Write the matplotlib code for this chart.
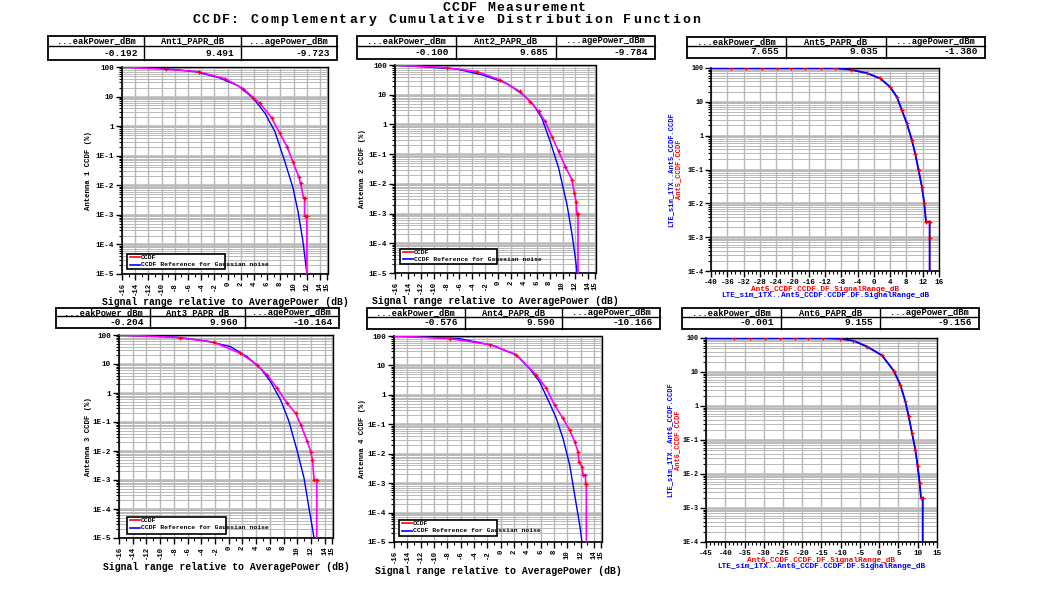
import matplotlib
matplotlib.use('Agg')
import matplotlib.pyplot as plt
from matplotlib.lines import Line2D
from matplotlib.patches import Rectangle
from matplotlib.ticker import FixedLocator, MultipleLocator, LogLocator, NullFormatter

plt.rcParams['font.family'] = ['Liberation Mono', 'DejaVu Sans Mono']
plt.rcParams['font.weight'] = 'bold'

W, H = 1063, 606

# ---------------- data ----------------
title_1 = "CCDF Measurement"
title_2 = "CCDF: Complementary Cumulative Distribution Function"

left_xticks = [-16, -14, -12, -10, -8, -6, -4, -2, 0, 2, 4, 6, 8, 10, 12, 14, 15]
left_xticklabels = ["-16", "-14", "-12", "-10", "-8", "-6", "-4", "-2", "0", "2", "4", "6", "8",
                    "10", "12", "14", "15"]
left_yticks = [100, 10, 1, 1e-1, 1e-2, 1e-3, 1e-4, 1e-5]
left_yticklabels = ["100", "10", "1", "1E-1", "1E-2", "1E-3", "1E-4", "1E-5"]
right_yticks = [100, 10, 1, 1e-1, 1e-2, 1e-3, 1e-4]
right_yticklabels = ["100", "10", "1", "1E-1", "1E-2", "1E-3", "1E-4"]
tr_xticks = [-40, -36, -32, -28, -24, -20, -16, -12, -8, -4, 0, 4, 8, 12, 16]
br_xticks = [-45, -40, -35, -30, -25, -20, -15, -10, -5, 0, 5, 10, 15]

legend_labels = ["CCDF", "CCDF Reference for Gaussian noise"]
left_xlabel = "Signal range relative to AveragePower (dB)"
left_ylabels = ["Antenna 1 CCDF (%)", "Antenna 2 CCDF (%)", "Antenna 3 CCDF (%)", "Antenna 4 CCDF (%)"]

table_headers = [
    ["...eakPower_dBm", "Ant1_PAPR_dB", "...agePower_dBm"],
    ["...eakPower_dBm", "Ant2_PAPR_dB", "...agePower_dBm"],
    ["...eakPower_dBm", "Ant5_PAPR_dB", "...agePower_dBm"],
    ["...eakPower_dBm", "Ant3_PAPR_dB", "...agePower_dBm"],
    ["...eakPower_dBm", "Ant4_PAPR_dB", "...agePower_dBm"],
    ["...eakPower_dBm", "Ant6_PAPR_dB", "...agePower_dBm"],
]
table_values = [
    ["-0.192", "9.491", "-9.723"],
    ["-0.100", "9.685", "-9.784"],
    ["7.655", "9.035", "-1.380"],
    ["-0.204", "9.960", "-10.164"],
    ["-0.576", "9.590", "-10.166"],
    ["-0.001", "9.155", "-9.156"],
]

# Antenna 1
ant1_ref_x = [-16, -9.85, -4.85, -1.35, 1.65, 3.9, 5.65, 7.15, 8.65, 9.9, 10.65, 11.4, 11.65, 12.0]
ant1_ref_y = [100, 90.2, 69.2, 43.7, 22.9, 8.71, 2.75, 0.661, 0.0646, 0.00813, 0.00132, 1.29e-4, 4.57e-5, 1e-5]
ant1_meas_x = [-16, -9.35, -4.35, -0.35, 2.4, 3.9, 4.9, 6.65, 7.9, 9.05, 9.9, 10.8, 11.05, 11.5, 11.65,
               11.65, 12.0, 12.0]
ant1_meas_y = [100, 83.2, 69.2, 39.8, 18.2, 9.23, 5.89, 1.95, 0.575, 0.191, 0.0603, 0.0186, 0.0117, 0.00372,
               0.00372, 0.000933, 0.000933, 1e-5]
# Antenna 2
ant2_ref_x = [-16, -6.44, -2.29, 1.35, 3.95, 5.5, 6.8, 8.1, 9.4, 10.7, 11.48, 12.0, 12.26]
ant2_ref_y = [100, 73.5, 45.7, 24.0, 9.77, 4.57, 1.62, 0.263, 0.0339, 0.002, 2e-4, 3.16e-5, 1e-5]
ant2_meas_x = [-16, -8, -3.3, 0.3, 3.4, 5.0, 6.3, 7.3, 8.36, 9.4, 10.44, 11.48, 11.84, 12.1, 12.26, 12.4, 12.4]
ant2_meas_y = [100, 81.3, 60.3, 31.6, 12.9, 5.89, 2.75, 1.26, 0.389, 0.123, 0.038, 0.0135, 0.0049, 0.00251,
               0.000955, 0.000955, 1e-5]
# Antenna 3
ant3_ref_x = [-16, -8.05, -3.17, 0.24, 2.68, 4.63, 6.1, 7.56, 8.78, 10.0, 10.98, 11.7, 12.2, 12.44]
ant3_ref_y = [100, 85.1, 61.7, 39.8, 17.8, 7.08, 2.45, 0.575, 0.105, 0.00955, 0.00115, 1.07e-4, 2.19e-5, 1e-5]
ant3_meas_x = [-16, -7.07, -2.2, 1.7, 4.15, 5.6, 7.07, 8.54, 9.76, 10.5, 11.46, 11.95, 12.2, 12.44, 12.83, 12.83]
ant3_meas_y = [100, 81.3, 56.2, 23.4, 9.33, 4.17, 1.45, 0.437, 0.2, 0.0794, 0.0214, 0.00955, 0.00501,
               0.00102, 0.00102, 1e-5]
# Antenna 4
ant4_ref_x = [-16, -6.15, -1.15, 2.35, 4.35, 5.85, 7.35, 8.35, 9.35, 10.35, 11.1, 11.85, 12.2]
ant4_ref_y = [100, 81.3, 47.9, 22.4, 7.76, 2.75, 0.513, 0.158, 0.0331, 0.00417, 3.98e-4, 3.89e-5, 1e-5]
ant4_meas_x = [-16, -7.65, -1.65, 2.35, 5.35, 6.85, 8.1, 9.35, 10.35, 11.1, 11.6, 11.75, 12.2, 12.35, 12.7,
               12.75, 12.85, 12.85]
ant4_meas_y = [100, 81.3, 51.3, 23.4, 4.68, 1.66, 0.447, 0.158, 0.0631, 0.0257, 0.0117, 0.00537, 0.00363,
               0.00191, 0.00191, 0.000955, 0.000955, 1e-5]
# Antenna 5 (LTE sim vs Ant5)
ant5_x = [-40, -35.1, -31.3, -27.5, -23.9, -20.3, -16.8, -13.1, -9.6, -5.7, -1.7, 1.56, 4.0, 5.66, 6.89,
          8.11, 9.34, 10.16, 10.98, 11.8, 12.38, 12.8, 13.7, 13.7, 13.7]
ant5_y = [100, 100, 100, 100, 100, 100, 100, 100, 100, 89.1, 70.8, 49.0, 27.5, 13.8, 5.62, 2.29, 0.741,
          0.295, 0.0955, 0.0309, 0.01, 0.00288, 0.00288, 0.000933, 1e-4]
# Antenna 6
ant6_x = [-45, -37.6, -33.7, -29.8, -25.9, -22.0, -18.4, -14.5, -10.3, -6.7, -3.2, 0.7, 3.73, 5.46, 6.76,
          7.63, 8.5, 9.37, 9.97, 10.49, 10.84, 11.28, 11.28]
ant6_y = [100, 100, 100, 100, 100, 100, 100, 100, 95.5, 83.2, 56.2, 30.9, 11.0, 4.27, 1.38, 0.501, 0.162,
          0.0525, 0.017, 0.0055, 0.002, 0.002, 1e-4]

RED = '#ff0000'
BLUE = '#0000ff'
MAG = '#ff00ff'
GRID = '#b9b9b9'

fig = plt.figure(figsize=(W / 100, H / 100), dpi=100)
fig.patch.set_facecolor('white')


def add_box_axes(box):
    l, t, r, b = box
    return fig.add_axes([l / W, 1 - b / H, (r - l) / W, (b - t) / H])


def ftext(px, py, s, **kw):
    fig.text(px / W, 1 - py / H, s, **kw)


def spaced_text(cx, py, s, pitch, size):
    x0 = cx - pitch * (len(s) - 1) / 2
    for i, ch in enumerate(s):
        if ch != ' ':
            ftext(x0 + i * pitch, py, ch, fontsize=size, weight='bold', ha='center', va='center')


def draw_table(box, headers, values, hfrac=0.42):
    tax = add_box_axes(box)
    tax.set_xlim(0, 3)
    tax.set_ylim(0, 1)
    tax.axis('off')
    tax.add_patch(Rectangle((0, 0), 3, 1, fill=False, lw=1.3, ec='black', clip_on=False))
    tax.plot([0, 3], [1 - hfrac] * 2, color='black', lw=1.0, clip_on=False)
    for i in (1, 2):
        tax.plot([i, i], [0, 1], color='black', lw=1.0, clip_on=False)
    for i, (h, v) in enumerate(zip(headers, values)):
        tax.text(i + 0.5, 1 - hfrac / 2, h, ha='center', va='center', fontsize=6.3, weight='bold')
        tax.text(i + 0.93, (1 - hfrac) / 2, v, ha='right', va='center', fontsize=6.8, weight='bold')


def style_axes(ax, xlim, ylim, yticks, yticklabels, xticks, xticklabels, xminor, rot, ysize):
    ax.set_yscale('log')
    ax.set_xlim(*xlim)
    ax.set_ylim(*ylim)
    ax.yaxis.set_major_locator(FixedLocator(yticks))
    ax.set_yticks(yticks, yticklabels)
    ax.yaxis.set_minor_locator(LogLocator(base=10, subs=range(2, 10), numticks=100))
    ax.yaxis.set_minor_formatter(NullFormatter())
    ax.set_xticks(xticks, xticklabels)
    ax.xaxis.set_minor_locator(MultipleLocator(xminor))
    ax.yaxis.grid(True, which='major', color=GRID, lw=1.8)
    ax.yaxis.grid(True, which='minor', color=GRID, lw=0.7)
    ax.xaxis.grid(True, which='major', color=GRID, lw=1.0)
    ax.set_axisbelow(True)
    for s in ('top', 'right'):
        ax.spines[s].set_linestyle((0, (1, 1)))
        ax.spines[s].set_linewidth(1.0)
    for s in ('left', 'bottom'):
        ax.spines[s].set_linewidth(1.2)
    ax.tick_params(axis='both', which='major', direction='out', length=4.5, width=1.0, pad=1.2,
                   labelsize=5.5)
    ax.tick_params(axis='y', which='major', labelsize=ysize)
    ax.tick_params(axis='both', which='minor', direction='out', length=2.2, width=0.8)
    if rot:
        ax.tick_params(axis='x', which='major', labelrotation=90, labelsize=5.2)
    for lab in ax.get_xticklabels() + ax.get_yticklabels():
        lab.set_fontweight('bold')


def draw_legend(box):
    l, t, r, b = box
    fig.add_artist(Rectangle((l / W, 1 - b / H), (r - l) / W, (b - t) / H, transform=fig.transFigure,
                             fc='white', ec='black', lw=1.2, zorder=5))
    rows = [t + 3.3, t + 10.5]
    cols = [RED, BLUE]
    for yy, c, lab in zip(rows, cols, legend_labels):
        fig.add_artist(Line2D([(l + 3) / W, (l + 13) / W], [1 - yy / H, 1 - yy / H],
                              transform=fig.transFigure, color=c, lw=1.2, zorder=6))
        ftext(l + 14, yy, lab, fontsize=4.6, weight='bold', va='center', ha='left', zorder=6)


left_panels = [
    dict(ax=(122, 67, 328, 274), tab=(48, 36, 337, 60), leg=(127, 254, 225, 269),
         ref=(ant1_ref_x, ant1_ref_y), meas=(ant1_meas_x, ant1_meas_y), ylab_x=89, xlab_y=302),
    dict(ax=(395, 65, 596, 273), tab=(357, 36, 655, 59), leg=(400, 249, 497, 264),
         ref=(ant2_ref_x, ant2_ref_y), meas=(ant2_meas_x, ant2_meas_y), ylab_x=362, xlab_y=301),
    dict(ax=(119, 335, 333, 538), tab=(56, 308, 339, 328), leg=(127, 517, 226, 534),
         ref=(ant3_ref_x, ant3_ref_y), meas=(ant3_meas_x, ant3_meas_y), ylab_x=88, xlab_y=567),
    dict(ax=(394, 336, 602, 542), tab=(367, 308, 660, 329), leg=(399, 520, 497, 536),
         ref=(ant4_ref_x, ant4_ref_y), meas=(ant4_meas_x, ant4_meas_y), ylab_x=362, xlab_y=571),
]
left_tables = [0, 1, 3, 4]

for i, p in enumerate(left_panels):
    ax = add_box_axes(p['ax'])
    rx, ry = p['ref']
    mx, my = p['meas']
    ax.plot(rx, ry, color=BLUE, lw=1.0, zorder=3)
    ax.plot(mx, my, color=MAG, lw=1.2, zorder=5)
    ax.plot(mx[1:-1], my[1:-1], ls='none', marker='+', color=RED, ms=3.5, mew=0.9, zorder=6)
    style_axes(ax, (-16, 15.2), (1e-5, 100), left_yticks, left_yticklabels,
               left_xticks, left_xticklabels, 1, True, 5.5)
    k = left_tables[i]
    draw_table(p['tab'], table_headers[k], table_values[k])
    draw_legend(p['leg'])
    l, t, r, b = p['ax']
    ftext((l + r) / 2, p['xlab_y'], left_xlabel, fontsize=7, weight='bold', ha='center', va='center')
    ftext(p['ylab_x'], (t + b) / 2, left_ylabels[i], fontsize=5.3, weight='bold', ha='center',
          va='center', rotation=90)

right_panels = [
    dict(ax=(711, 68, 939, 271), tab=(687, 37, 985, 58), x=ant5_x, y=ant5_y, xlim=(-40, 16),
         xticks=tr_xticks, name="Ant5", xl_y=(289, 295), yl_x=(671, 679), k=2),
    dict(ax=(706, 338, 937, 542), tab=(682, 308, 979, 329), x=ant6_x, y=ant6_y, xlim=(-45, 15),
         xticks=br_xticks, name="Ant6", xl_y=(561, 567), yl_x=(670, 678), k=5),
]

for p in right_panels:
    ax = add_box_axes(p['ax'])
    ax.plot(p['x'], p['y'], color=RED, lw=1.0, zorder=3)
    ax.plot(p['x'], p['y'], color=BLUE, lw=1.3, zorder=4)
    ax.plot(p['x'][1:-1], p['y'][1:-1], ls='none', marker='+', color=RED, ms=3.5, mew=0.9, zorder=5)
    style_axes(ax, p['xlim'], (1e-4, 100), right_yticks, right_yticklabels,
               p['xticks'], [str(v) for v in p['xticks']], 1, False, 4.9)
    draw_table(p['tab'], table_headers[p['k']], table_values[p['k']])
    l, t, r, b = p['ax']
    cx = (l + r) / 2
    cy = (t + b) / 2
    n = p['name']
    ftext(cx, p['xl_y'][0], n + "_CCDF.CCDF.DF.SignalRange_dB", color=RED, fontsize=5.6, weight='bold',
          ha='center', va='center')
    ftext(cx, p['xl_y'][1], "LTE_sim_1TX.." + n + "_CCDF.CCDF.DF.SignalRange_dB", color=BLUE,
          fontsize=5.6, weight='bold', ha='center', va='center')
    ftext(p['yl_x'][0], cy, "LTE_sim_1TX.." + n + "_CCDF.CCDF", color=BLUE, fontsize=5.0, weight='bold',
          ha='center', va='center', rotation=90)
    ftext(p['yl_x'][1], cy, n + "_CCDF.CCDF", color=RED, fontsize=5.0, weight='bold',
          ha='center', va='center', rotation=90)

spaced_text(514, 8, title_1, 9.06, 9.5)
spaced_text(446, 20, title_2, 9.8, 9.5)

fig.savefig('out.png', dpi=100, facecolor='white')
